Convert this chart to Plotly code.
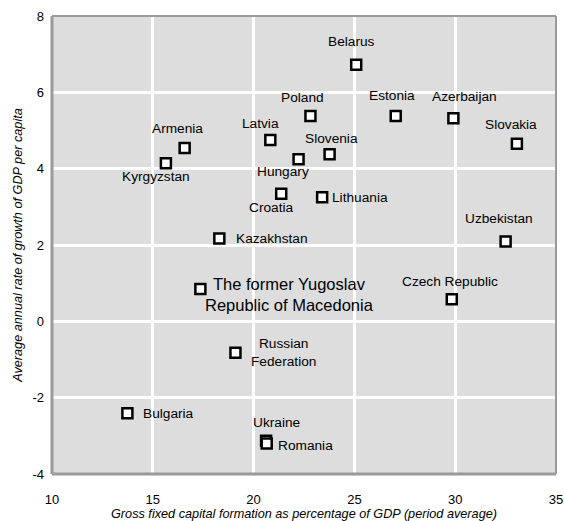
import plotly.graph_objects as go

countries = ["Belarus", "Poland", "Estonia", "Azerbaijan", "Slovakia", "Slovenia",
             "Hungary", "Lithuania", "Uzbekistan", "Latvia", "Armenia", "Kyrgyzstan",
             "Croatia", "Kazakhstan", "The former Yugoslav Republic of Macedonia",
             "Russian Federation", "Bulgaria", "Ukraine", "Romania", "Czech Republic"]
gfcf = [25.09, 22.82, 27.05, 29.91, 33.06, 23.77,
        22.23, 23.4, 32.5, 20.83, 16.58, 15.65,
        21.37, 18.3, 17.36,
        19.1, 13.74, 20.62, 20.65, 29.83]
growth = [6.72, 5.38, 5.38, 5.32, 4.65, 4.38,
          4.25, 3.25, 2.09, 4.75, 4.54, 4.14,
          3.34, 2.17, 0.85,
          -0.82, -2.41, -3.13, -3.2, 0.58]

x_ticks = [10, 15, 20, 25, 30, 35]
y_ticks = [-4, -2, 0, 2, 4, 6, 8]

# label styling: (display text, xshift px, yshift px (screen, down positive), anchor, font size)
label_style = {
    "Belarus": ("Belarus", -5, -23, "center", 13.7),
    "Poland": ("Poland", -8, -19, "center", 13.7),
    "Estonia": ("Estonia", -4, -21, "center", 13.7),
    "Azerbaijan": ("Azerbaijan", 11, -22, "center", 13.7),
    "Slovakia": ("Slovakia", -6, -19, "center", 13.7),
    "Slovenia": ("Slovenia", 2, -16, "center", 13.7),
    "Hungary": ("Hungary", -16, 12, "center", 13.7),
    "Lithuania": ("Lithuania", 8, 0, "left", 13.7),
    "Uzbekistan": ("Uzbekistan", -7, -23, "center", 13.7),
    "Latvia": ("Latvia", -10, -17, "center", 13.7),
    "Armenia": ("Armenia", -7, -20, "center", 13.7),
    "Kyrgyzstan": ("Kyrgyzstan", -10, 13, "center", 13.7),
    "Croatia": ("Croatia", -10, 14, "center", 13.7),
    "Kazakhstan": ("Kazakhstan", 15, 0, "left", 13.7),
    "The former Yugoslav Republic of Macedonia": ("The former Yugoslav<br>Republic of Macedonia", 89, 6, "center", 16.5),
    "Russian Federation": ("Russian<br>Federation", 48, 0, "center", 13.7),
    "Bulgaria": ("Bulgaria", 14, 0, "left", 13.7),
    "Ukraine": ("Ukraine", 10, -18, "center", 13.7),
    "Romania": ("Romania", 9, 2, "left", 13.7),
    "Czech Republic": ("Czech Republic", -1.5, -17.6, "center", 13.7),
}

FONT = "Liberation Sans, Arial, sans-serif"

fig = go.Figure()
fig.add_trace(go.Scatter(
    x=gfcf, y=growth, mode="markers",
    marker=dict(symbol="square", size=10, color="white",
                line=dict(color="black", width=2.5)),
    hovertext=countries, hoverinfo="text", showlegend=False,
))

annotations = []
for c, xv, yv in zip(countries, gfcf, growth):
    txt, dx, dy, anchor, fs = label_style[c]
    annotations.append(dict(
        x=xv, y=yv, xref="x", yref="y", text=txt, showarrow=False,
        xshift=dx, yshift=-dy, xanchor=anchor, yanchor="middle",
        font=dict(family=FONT, size=fs, color="black"), align="center",
    ))
fig.update_layout(annotations=annotations)

border = "#9a9a9a"
shapes = [
    dict(type="line", xref="paper", yref="paper", x0=0, x1=1, y0=1, y1=1, line=dict(color=border, width=2)),
    dict(type="line", xref="paper", yref="paper", x0=1, x1=1, y0=0, y1=1, line=dict(color=border, width=2)),
    dict(type="line", xref="paper", yref="paper", x0=0, x1=0, y0=0, y1=1, line=dict(color=border, width=3)),
    dict(type="line", xref="paper", yref="paper", x0=0, x1=1, y0=0, y1=0, line=dict(color=border, width=3)),
]

fig.update_layout(
    width=564, height=521,
    margin=dict(l=52, r=8, t=16, b=47),
    paper_bgcolor="white", plot_bgcolor="#dddddd",
    font=dict(family=FONT, size=13, color="black"),
    shapes=shapes,
    xaxis=dict(range=[10, 35], tickvals=x_ticks, ticktext=[str(v) for v in x_ticks],
               showgrid=True, gridcolor="white", gridwidth=3, zeroline=False,
               automargin=False,
               ticks="", ticklabelstandoff=16, tickfont=dict(size=13),
               title=dict(text="<i>Gross fixed capital formation as percentage of GDP (period average)</i>",
                          font=dict(size=12.7), standoff=0)),
    yaxis=dict(range=[-4, 8], tickvals=y_ticks, ticktext=[str(v) for v in y_ticks],
               showgrid=True, gridcolor="white", gridwidth=3, zeroline=False,
               automargin=False,
               ticks="", ticklabelstandoff=7, tickfont=dict(size=13),
               title=dict(text="<i>Average annual rate of growth of GDP per capita</i>",
                          font=dict(size=12.7), standoff=6)),
)

fig.write_html("out.html", config={"displayModeBar": False},
               post_script="document.body.style.margin='0';document.body.style.overflow='hidden';")
